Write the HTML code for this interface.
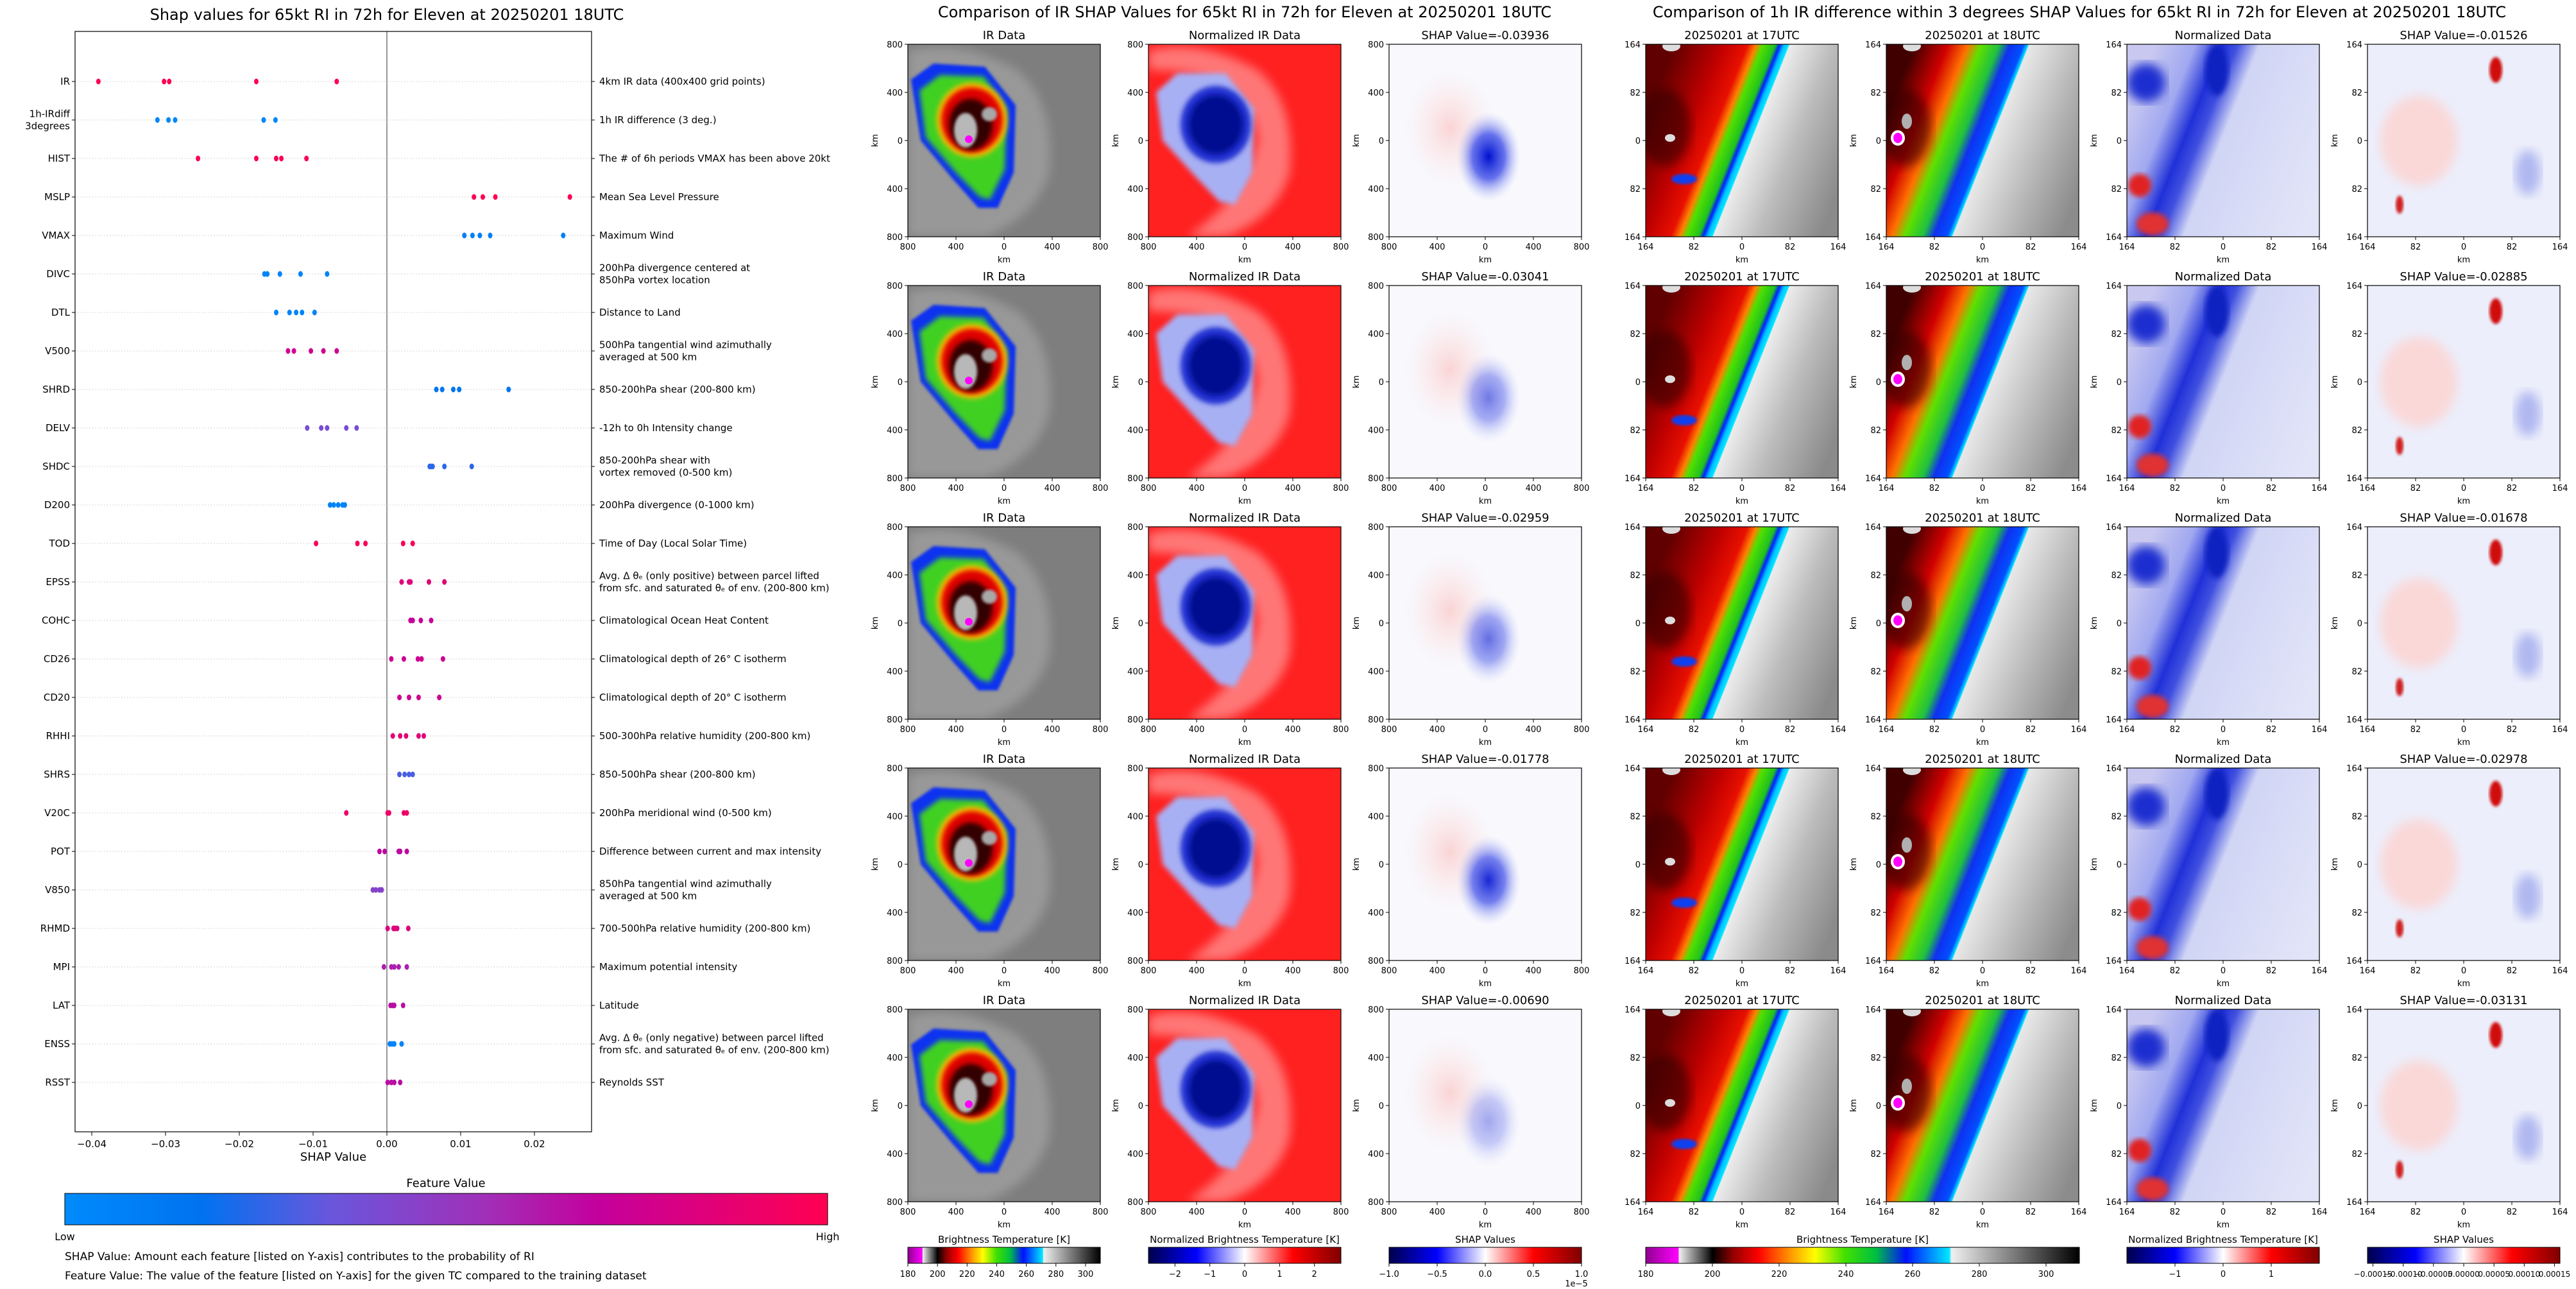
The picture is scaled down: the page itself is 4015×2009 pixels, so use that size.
<!DOCTYPE html>
<html><head><meta charset="utf-8">
<style>
html,body{margin:0;padding:0;background:#fff;}
svg{display:block;font-family:"DejaVu Sans","Liberation Sans",sans-serif;}
</style></head>
<body>
<svg id="root" xmlns="http://www.w3.org/2000/svg" width="4015" height="2009" viewBox="0 0 4015 2009">
<defs>
  <linearGradient id="featGrad" x1="0" x2="1" y1="0" y2="0">
    <stop offset="0" stop-color="#008bfb"/><stop offset="0.18" stop-color="#0072f0"/>
    <stop offset="0.35" stop-color="#6a56dc"/><stop offset="0.55" stop-color="#a030b8"/>
    <stop offset="0.70" stop-color="#c4009c"/><stop offset="1" stop-color="#ff0052"/>
  </linearGradient>
  <linearGradient id="btGrad" x1="0" x2="1" y1="0" y2="0">
    <stop offset="0" stop-color="#900090"/><stop offset="0.075" stop-color="#ff00ff"/>
    <stop offset="0.077" stop-color="#f0f0f0"/><stop offset="0.14" stop-color="#303030"/>
    <stop offset="0.154" stop-color="#000"/><stop offset="0.2" stop-color="#900000"/>
    <stop offset="0.26" stop-color="#ff0000"/><stop offset="0.33" stop-color="#ff9000"/>
    <stop offset="0.39" stop-color="#ffff00"/><stop offset="0.46" stop-color="#40e000"/>
    <stop offset="0.53" stop-color="#00c040"/><stop offset="0.6" stop-color="#0010ff"/>
    <stop offset="0.7" stop-color="#00e8ff"/><stop offset="0.705" stop-color="#f0f0f0"/>
    <stop offset="1" stop-color="#000"/>
  </linearGradient>
  <linearGradient id="seisGrad" x1="0" x2="1" y1="0" y2="0">
    <stop offset="0" stop-color="#00004c"/><stop offset="0.25" stop-color="#0000ff"/>
    <stop offset="0.5" stop-color="#ffffff"/><stop offset="0.75" stop-color="#ff0000"/>
    <stop offset="1" stop-color="#800000"/>
  </linearGradient>
  <radialGradient id="shapBlob"><stop offset="0" stop-color="#0010d0"/><stop offset="0.5" stop-color="#4050e8" stop-opacity="0.8"/><stop offset="1" stop-color="#c0c8f8" stop-opacity="0"/></radialGradient>
  <radialGradient id="pinkBlob"><stop offset="0" stop-color="#fad4d4"/><stop offset="1" stop-color="#fde8e8" stop-opacity="0"/></radialGradient>
  <linearGradient id="ir17" gradientUnits="userSpaceOnUse" x1="0" y1="110" x2="300" y2="230">
    <stop offset="0" stop-color="#600000"/><stop offset="0.22" stop-color="#c00000"/>
    <stop offset="0.33" stop-color="#e81000"/><stop offset="0.37" stop-color="#ff8000"/>
    <stop offset="0.40" stop-color="#50e000"/><stop offset="0.455" stop-color="#20c020"/>
    <stop offset="0.475" stop-color="#0020ff"/><stop offset="0.495" stop-color="#00c0ff"/>
    <stop offset="0.515" stop-color="#00e8ff"/><stop offset="0.52" stop-color="#ececec"/>
    <stop offset="0.72" stop-color="#bcbcbc"/><stop offset="1" stop-color="#8a8a8a"/>
  </linearGradient>
  <linearGradient id="ir18" gradientUnits="userSpaceOnUse" x1="0" y1="110" x2="300" y2="230">
    <stop offset="0" stop-color="#400000"/><stop offset="0.15" stop-color="#d00000"/>
    <stop offset="0.24" stop-color="#ff7000"/><stop offset="0.30" stop-color="#60e000"/>
    <stop offset="0.38" stop-color="#20c040"/><stop offset="0.43" stop-color="#1030f0"/>
    <stop offset="0.49" stop-color="#0050ff"/><stop offset="0.51" stop-color="#00e0ff"/>
    <stop offset="0.515" stop-color="#e8e8e8"/><stop offset="0.8" stop-color="#b0b0b0"/>
    <stop offset="1" stop-color="#8c8c8c"/>
  </linearGradient>
  <linearGradient id="normR" gradientUnits="userSpaceOnUse" x1="0" y1="110" x2="300" y2="230">
    <stop offset="0" stop-color="#c8c8f0"/><stop offset="0.18" stop-color="#a0a8f0"/>
    <stop offset="0.3" stop-color="#2030d8"/><stop offset="0.37" stop-color="#4050e0"/>
    <stop offset="0.47" stop-color="#d0d5f5"/><stop offset="1" stop-color="#e2e5f8"/>
  </linearGradient>
  <filter id="blur4"><feGaussianBlur stdDeviation="4"/></filter>
  <filter id="blur8"><feGaussianBlur stdDeviation="8"/></filter>
  <filter id="blur2"><feGaussianBlur stdDeviation="2"/></filter>
  <clipPath id="clipP"><rect x="0" y="0" width="300" height="300"/></clipPath>
</defs>
</svg>
<script>
// ---------- beeswarm data ----------
const features = ["IR","1h-IRdiff\n3degrees","HIST","MSLP","VMAX","DIVC","DTL","V500","SHRD","DELV","SHDC","D200","TOD","EPSS","COHC","CD26","CD20","RHHI","SHRS","V20C","POT","V850","RHMD","MPI","LAT","ENSS","RSST"];
const descriptions = ["4km IR data (400x400 grid points)","1h IR difference (3 deg.)","The # of 6h periods VMAX has been above 20kt","Mean Sea Level Pressure","Maximum Wind","200hPa divergence centered at\n850hPa vortex location","Distance to Land","500hPa tangential wind azimuthally\naveraged at 500 km","850-200hPa shear (200-800 km)","-12h to 0h Intensity change","850-200hPa shear with\nvortex removed (0-500 km)","200hPa divergence (0-1000 km)","Time of Day (Local Solar Time)","Avg. Δ θₑ (only positive) between parcel lifted\nfrom sfc. and saturated θₑ of env. (200-800 km)","Climatological Ocean Heat Content","Climatological depth of 26° C isotherm","Climatological depth of 20° C isotherm","500-300hPa relative humidity (200-800 km)","850-500hPa shear (200-800 km)","200hPa meridional wind (0-500 km)","Difference between current and max intensity","850hPa tangential wind azimuthally\naveraged at 500 km","700-500hPa relative humidity (200-800 km)","Maximum potential intensity","Latitude","Avg. Δ θₑ (only negative) between parcel lifted\nfrom sfc. and saturated θₑ of env. (200-800 km)","Reynolds SST"];
const shapValues = [
 [-0.0391,-0.0302,-0.0295,-0.0177,-0.0068],
 [-0.0311,-0.0296,-0.0287,-0.0167,-0.0151],
 [-0.0256,-0.0177,-0.0150,-0.0143,-0.0109],
 [0.0118,0.0130,0.0147,0.0248],
 [0.0105,0.0116,0.0126,0.0140,0.0239],
 [-0.0166,-0.0162,-0.0145,-0.0117,-0.0081],
 [-0.0150,-0.0132,-0.0123,-0.0115,-0.0098],
 [-0.0134,-0.0126,-0.0103,-0.0086,-0.0068],
 [0.0067,0.0075,0.0090,0.0098,0.0165],
 [-0.0108,-0.0089,-0.0081,-0.0055,-0.0041],
 [0.0058,0.0060,0.0062,0.0078,0.0115],
 [-0.0077,-0.0072,-0.0066,-0.0060,-0.0057],
 [-0.0096,-0.0040,-0.0029,0.0022,0.0035],
 [0.0020,0.0030,0.0032,0.0057,0.0078],
 [0.0032,0.0035,0.0046,0.0060],
 [0.0006,0.0023,0.0042,0.0047,0.0076],
 [0.0017,0.0030,0.0043,0.0071],
 [0.0008,0.0018,0.0026,0.0043,0.0050],
 [0.0017,0.0024,0.0030,0.0035],
 [-0.0055,0.0001,0.0003,0.0023,0.0027],
 [-0.0010,-0.0003,0.0016,0.0018,0.0027],
 [-0.0019,-0.0015,-0.0010,-0.0007],
 [0.0001,0.0009,0.0011,0.0014,0.0029],
 [-0.0004,0.0006,0.0010,0.0016,0.0027],
 [0.0005,0.0008,0.0010,0.0022],
 [0.0004,0.0007,0.0010,0.0020],
 [0.0001,0.0006,0.0010,0.0018]
];
const featureLevels = [1.0,0.03,0.97,1.0,0.08,0.05,0.05,0.75,0.15,0.4,0.25,0.05,0.97,0.85,0.72,0.75,0.75,0.85,0.3,0.92,0.68,0.45,0.82,0.6,0.66,0.05,0.66];
const xTicks = [-0.04,-0.03,-0.02,-0.01,0.00,0.01,0.02];
const xTickLabels = ["\u22120.04","\u22120.03","\u22120.02","\u22120.01","0.00","0.01","0.02"];
// ---------- panel data ----------
const leftShapTitles = ["SHAP Value=-0.03936","SHAP Value=-0.03041","SHAP Value=-0.02959","SHAP Value=-0.01778","SHAP Value=-0.00690"];
const rightShapTitles = ["SHAP Value=-0.01526","SHAP Value=-0.02885","SHAP Value=-0.01678","SHAP Value=-0.02978","SHAP Value=-0.03131"];
const leftShapStrength = [1.0,0.55,0.6,0.9,0.35];
const btTicks = [180,200,220,240,260,280,300];
const normTicksL = [-2,-1,0,1,2];
const normTicksR = [-1,0,1];
const shapTicksL = [-1.0,-0.5,0.0,0.5,1.0];
const shapTicksLLabels = ["\u22121.0","\u22120.5","0.0","0.5","1.0"];
const shapTicksR = [-0.00015,-0.00010,-0.00005,0,0.00005,0.00010,0.00015];
const shapTicksRLabels = ["\u22120.00015","\u22120.00010","\u22120.00005","0.00000","0.00005","0.00010","0.00015"];

const NS="http://www.w3.org/2000/svg";
const root=document.getElementById('root');
function mk(tag,attrs,parent){const e=document.createElementNS(NS,tag);for(const k in attrs)e.setAttribute(k,attrs[k]);(parent||root).appendChild(e);return e;}
function txt(s,x,y,size,anchor,parent,extra){const t=mk('text',Object.assign({x:x,y:y,'font-size':size,'text-anchor':anchor||'middle',fill:'#000'},extra||{}),parent);t.textContent=s;return t;}

// ---------- beeswarm axes ----------
const AX={l:117,r:922,t:49,b:1764};
const xScale=v=>603+v*11500;
const yScale=i=>127+i*60;
const stops=[[0,[0,139,251]],[0.18,[0,114,240]],[0.35,[106,86,220]],[0.55,[160,48,184]],[0.70,[196,0,156]],[1,[255,0,82]]];
function featColor(v){for(let i=1;i<stops.length;i++){if(v<=stops[i][0]){const a=stops[i-1],b=stops[i];const f=(v-a[0])/(b[0]-a[0]);const c=a[1].map((x,k)=>Math.round(x+(b[1][k]-x)*f));return 'rgb('+c.join(',')+')';}}return 'rgb(255,0,82)';}

const bee=mk('g',{});


const t0=txt('Shap values for 65kt RI in 72h for Eleven at 20250201 18UTC',603,31,24,'middle',bee);


features.forEach((f,i)=>{
  const y=yScale(i);
  const gl=mk('line',{x1:AX.l,x2:AX.r,y1:y,y2:y,stroke:'#c8c8c8','stroke-width':1,'stroke-dasharray':'1.5,3'},bee);
  
  
  mk('line',{x1:AX.l-5,x2:AX.l,y1:y,y2:y,stroke:'#000'},bee);
  mk('line',{x1:AX.r,x2:AX.r+5,y1:y,y2:y,stroke:'#000'},bee);
  const lines=f.split('\n');
  const lt=txt('',AX.l-8,0,15,'end',bee);
  
  
  lines.forEach((s,k)=>{const ts=mk('tspan',{x:AX.l-8,y:y+5+(k-(lines.length-1)/2)*19},lt);ts.textContent=s;});
  const dl=descriptions[i].split('\n');
  const dt=txt('',AX.r+12,0,15,'start',bee);
  
  
  dl.forEach((s,k)=>{const ts=mk('tspan',{x:AX.r+12,y:y+5+(k-(dl.length-1)/2)*19},dt);ts.textContent=s;});
});
const zl=mk('line',{x1:xScale(0),x2:xScale(0),y1:AX.t,y2:AX.b,stroke:'#999','stroke-width':2},bee);


shapValues.forEach((arr,i)=>{arr.forEach(v=>{
  const d=mk('ellipse',{cx:xScale(v),cy:yScale(i),rx:3.5,ry:4.5,fill:featColor(featureLevels[i])},bee);
  
  
});});
const box=mk('rect',{x:AX.l,y:AX.t,width:AX.r-AX.l,height:AX.b-AX.t,fill:'none',stroke:'#000','stroke-width':1.2},bee);


xTicks.forEach((v,k)=>{
  mk('line',{x1:xScale(v),x2:xScale(v),y1:AX.b,y2:AX.b+6,stroke:'#000'},bee);
  const tl=txt(xTickLabels[k],xScale(v),AX.b+24,15,'middle',bee);
  
  
});
const xl=txt('SHAP Value',(AX.l+AX.r)/2,AX.b+45,18,'middle',bee);


const fvt=txt('Feature Value',695,1850,18,'middle',bee);


const fcb=mk('rect',{x:101,y:1860,width:1189,height:49,fill:'url(#featGrad)',stroke:'#000','stroke-width':1},bee);


const lo=txt('Low',101,1933,16,'middle',bee);


const hi=txt('High',1290,1933,16,'middle',bee);


const n1=txt('SHAP Value: Amount each feature [listed on Y-axis] contributes to the probability of RI',101,1964,17,'start',bee);


const n2=txt('Feature Value: The value of the feature [listed on Y-axis] for the given TC compared to the training dataset',101,1994,17,'start',bee);



// ---------- image panels ----------
const rowsY=[69,445,821,1197,1573];
const leftX=[1415,1790,2165];
const rightX=[2565,2940,3315,3690];
const P=300;

function axesDecor(g,x,y,title,tickLabels,ylab){
  const tt=txt(title,x+P/2,y-8,18,'middle',g);
  
  
  mk('rect',{x:x,y:y,width:P,height:P,fill:'none',stroke:'#000','stroke-width':1.2},g);
  tickLabels.forEach((s,k)=>{
    const px=x+k*P/4, py=y+k*P/4;
    mk('line',{x1:px,x2:px,y1:y+P,y2:y+P+5,stroke:'#000'},g);
    txt(s,px,y+P+20,13,'middle',g);
    mk('line',{x1:x-5,x2:x,y1:py,y2:py,stroke:'#000'},g);
    txt(s,x-8,py+5,13,'end',g);
  });
  txt('km',x+P/2,y+P+40,13,'middle',g);
  if(ylab){txt('km',0,0,13,'middle',g,{transform:'translate('+(x-47)+','+(y+P/2)+') rotate(-90)'});}
}
function panelGroup(x,y,name){const g=mk('g',{});const inner=mk('g',{transform:'translate('+x+','+y+')','clip-path':'url(#clipP)'},g);return [g,inner];}

function drawIR(p){
  mk('rect',{x:0,y:0,width:P,height:P,fill:'#7e7e7e'},p);
  mk('path',{d:'M0,10 Q80,-10 170,40 Q230,90 220,200 Q200,270 120,300 L0,300 Z',fill:'#a4a4a4',filter:'url(#blur8)',opacity:0.7},p);
  mk('path',{d:'M5,55 L40,30 L120,35 L168,95 L165,200 L140,255 L110,255 L70,210 L20,150 Z',fill:'#1030f0',filter:'url(#blur2)'},p);
  mk('path',{d:'M18,72 L50,48 L118,50 L154,100 L151,195 L128,242 L112,238 L75,200 L28,145 Z',fill:'#40d020',filter:'url(#blur4)'},p);
  mk('ellipse',{cx:100,cy:118,rx:55,ry:58,fill:'#ffc000',filter:'url(#blur4)'},p);
  mk('ellipse',{cx:100,cy:118,rx:48,ry:51,fill:'#e00000',filter:'url(#blur4)'},p);
  mk('ellipse',{cx:98,cy:125,rx:34,ry:40,fill:'#300000',filter:'url(#blur4)'},p);
  mk('ellipse',{cx:90,cy:134,rx:18,ry:27,fill:'#b8b8b8',filter:'url(#blur2)'},p);
  mk('ellipse',{cx:127,cy:109,rx:12,ry:11,fill:'#a8a8a8',filter:'url(#blur2)'},p);
  mk('ellipse',{cx:95,cy:148,rx:6,ry:6,fill:'#ff00ff'},p);
}
function drawNorm(p){
  mk('rect',{x:0,y:0,width:P,height:P,fill:'#ff2020'},p);
  mk('path',{d:'M0,10 Q80,-10 170,40 Q230,90 220,200 Q200,270 120,300 L60,300 Q150,240 170,150 Q160,40 0,40 Z',fill:'#ffb0b0',filter:'url(#blur8)',opacity:0.6},p);
  mk('path',{d:'M12,75 L45,45 L120,45 L165,100 L162,200 L135,250 L110,245 L72,205 L22,150 Z',fill:'#a8b0f4',filter:'url(#blur4)'},p);
  mk('ellipse',{cx:105,cy:125,rx:55,ry:60,fill:'#2030d0',filter:'url(#blur4)'},p);
  mk('ellipse',{cx:105,cy:125,rx:42,ry:46,fill:'#000890',filter:'url(#blur4)'},p);
}
function drawShapL(p,s){
  mk('rect',{x:0,y:0,width:P,height:P,fill:'#f8f8fd'},p);
  mk('ellipse',{cx:95,cy:130,rx:70,ry:90,fill:'url(#pinkBlob)'},p);
  mk('ellipse',{cx:155,cy:175,rx:50,ry:70,fill:'url(#shapBlob)',opacity:s},p);
}
function drawR1(p,grad,eyes){
  mk('rect',{x:0,y:0,width:P,height:P,fill:'url(#'+grad+')'},p);
  mk('ellipse',{cx:30,cy:130,rx:40,ry:60,fill:'#300000',filter:'url(#blur8)',opacity:0.6},p);
  if(eyes){mk('ellipse',{cx:18,cy:146,rx:11,ry:12,fill:'#fff'},p);mk('ellipse',{cx:18,cy:146,rx:7,ry:8,fill:'#ff00ff'},p);mk('ellipse',{cx:32,cy:120,rx:8,ry:12,fill:'#b0b0b0'},p);}
  else{mk('ellipse',{cx:38,cy:146,rx:8,ry:6,fill:'#ddd'},p);
    mk('ellipse',{cx:60,cy:210,rx:20,ry:8,fill:'#1040f0',filter:'url(#blur2)'},p);}
  mk('ellipse',{cx:40,cy:3,rx:14,ry:8,fill:'#ddd'},p);
}
function drawR3(p){
  mk('rect',{x:0,y:0,width:P,height:P,fill:'url(#normR)'},p);
  mk('ellipse',{cx:30,cy:60,rx:30,ry:30,fill:'#1c2ed0',filter:'url(#blur8)'},p);
  mk('ellipse',{cx:20,cy:220,rx:18,ry:18,fill:'#e02020',filter:'url(#blur4)'},p);
  mk('ellipse',{cx:40,cy:280,rx:25,ry:18,fill:'#e03030',filter:'url(#blur4)'},p);
  mk('ellipse',{cx:140,cy:40,rx:18,ry:40,fill:'#1020c0',filter:'url(#blur4)'},p);
}
function drawR4(p){
  mk('rect',{x:0,y:0,width:P,height:P,fill:'#eceefb'},p);
  mk('ellipse',{cx:80,cy:150,rx:60,ry:70,fill:'#fad8d8',filter:'url(#blur8)'},p);
  mk('ellipse',{cx:200,cy:40,rx:10,ry:20,fill:'#d01010',filter:'url(#blur2)'},p);
  mk('ellipse',{cx:50,cy:250,rx:6,ry:14,fill:'#d02020',filter:'url(#blur2)'},p);
  mk('ellipse',{cx:250,cy:200,rx:20,ry:35,fill:'#b0b8f0',filter:'url(#blur8)'},p);
}

const lTicks=["800","400","0","400","800"];
const rTicks=["164","82","0","82","164"];
rowsY.forEach((y,r)=>{
  let a=panelGroup(leftX[0],y,'ir-data-panel'); drawIR(a[1]); axesDecor(a[0],leftX[0],y,'IR Data',lTicks,true);
  a=panelGroup(leftX[1],y,'normalized-ir-panel'); drawNorm(a[1]); axesDecor(a[0],leftX[1],y,'Normalized IR Data',lTicks,true);
  a=panelGroup(leftX[2],y,'ir-shap-panel'); drawShapL(a[1],leftShapStrength[r]); axesDecor(a[0],leftX[2],y,leftShapTitles[r],lTicks,true);
  a=panelGroup(rightX[0],y,'ir-17utc-panel'); drawR1(a[1],'ir17',false); axesDecor(a[0],rightX[0],y,'20250201 at 17UTC',rTicks,false);
  a=panelGroup(rightX[1],y,'ir-18utc-panel'); drawR1(a[1],'ir18',true); axesDecor(a[0],rightX[1],y,'20250201 at 18UTC',rTicks,true);
  a=panelGroup(rightX[2],y,'normalized-diff-panel'); drawR3(a[1]); axesDecor(a[0],rightX[2],y,'Normalized Data',rTicks,true);
  a=panelGroup(rightX[3],y,'diff-shap-panel'); drawR4(a[1]); axesDecor(a[0],rightX[3],y,rightShapTitles[r],rTicks,true);
});
const gt1=txt('Comparison of IR SHAP Values for 65kt RI in 72h for Eleven at 20250201 18UTC',1940,27,24,'middle');


const gt2=txt('Comparison of 1h IR difference within 3 degrees SHAP Values for 65kt RI in 72h for Eleven at 20250201 18UTC',3241,27,24,'middle');



// ---------- colorbars ----------
function colorbar(name,x,w,grad,title,vmin,vmax,ticks,labels,fs){
  const g=mk('g',{});
  
  
  txt(title,x+w/2,1937,15,'middle',g);
  mk('rect',{x:x,y:1944,width:w,height:25,fill:'url(#'+grad+')',stroke:'#000','stroke-width':1},g);
  ticks.forEach((v,k)=>{const px=x+(v-vmin)/(vmax-vmin)*w;mk('line',{x1:px,x2:px,y1:1969,y2:1974,stroke:'#000'},g);txt(labels[k],px,1990,fs||13,'middle',g);});
  return g;
}
const lab=a=>a.map(v=>v<0?'\u2212'+Math.abs(v):String(v));
colorbar('bt-colorbar-ir',leftX[0],P,'btGrad','Brightness Temperature [K]',180,310,btTicks,btTicks.map(String));
colorbar('norm-colorbar-ir',leftX[1],P,'seisGrad','Normalized Brightness Temperature [K]',-2.76,2.76,normTicksL,lab(normTicksL));
const sc=colorbar('shap-colorbar-ir',leftX[2],P,'seisGrad','SHAP Values',-1,1,shapTicksL,shapTicksLLabels);
txt('1e\u22125',leftX[2]+P-8,2005,13,'middle',sc);
colorbar('bt-colorbar-diff',rightX[0],676,'btGrad','Brightness Temperature [K]',180,310,btTicks,btTicks.map(String));
colorbar('norm-colorbar-diff',rightX[2],P,'seisGrad','Normalized Brightness Temperature [K]',-2,2,normTicksR,lab(normTicksR));
colorbar('shap-colorbar-diff',rightX[3],P,'seisGrad','SHAP Values',-0.000159,0.000159,shapTicksR,shapTicksRLabels,12);
</script>
</body></html>
